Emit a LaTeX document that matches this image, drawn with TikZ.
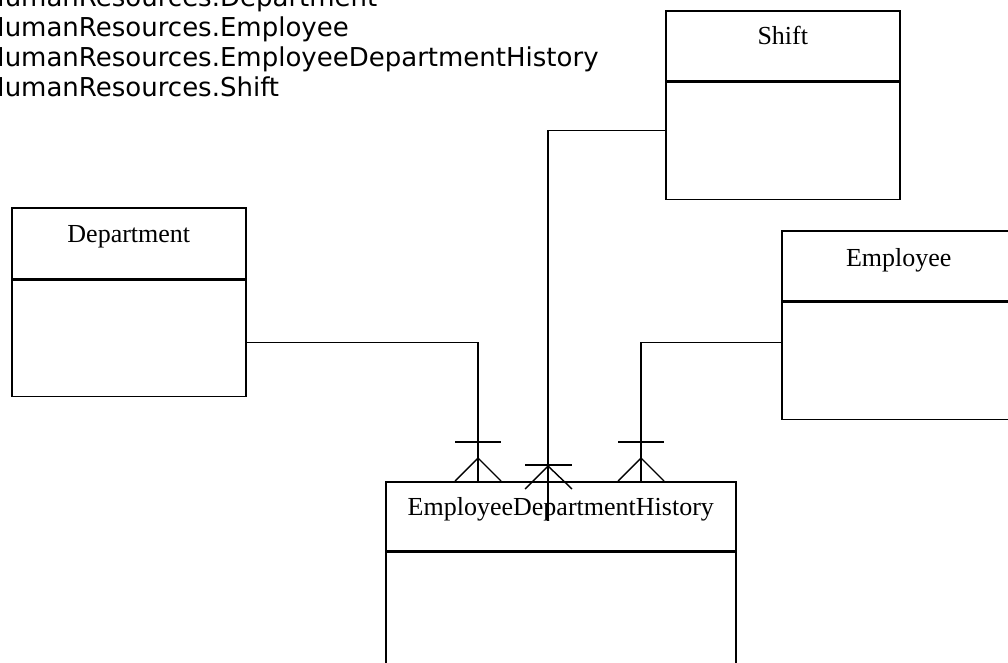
\documentclass[tikz,border=0pt]{standalone}
\usepackage{fontspec}
\setmainfont{Liberation Serif}
\newfontfamily\listfont{DejaVu Sans}
\usetikzlibrary{calc,positioning}
\begin{document}
\begin{tikzpicture}[x=1pt,y=-1pt,
  hdr/.style={draw, line width=1.6pt, minimum width=234pt, minimum height=70pt, inner sep=0pt, anchor=north west},
  bodybox/.style={draw, line width=1.4pt, minimum width=234pt, minimum height=117pt, inner sep=0pt, anchor=north west},
  ttl/.style={anchor=base, inner sep=0pt, font=\fontsize{26}{30}\selectfont},
  lst/.style={anchor=base west, inner sep=0pt, font=\listfont\fontsize{26}{30}\selectfont},
  conn/.style={line width=1.4pt},
  foot/.style={line width=1.4pt}
]
\useasboundingbox (0,0) rectangle (1008,663);
\clip (0,0) rectangle (1008,663);
\fill[white] (0,0) rectangle (1008,663);

% list of tables
\node[lst] (t1) at (-15,7)  {HumanResources.Department};
\node[lst] (t2) at (-15,37) {HumanResources.Employee};
\node[lst] (t3) at (-15,67) {HumanResources.EmployeeDepartmentHistory};
\node[lst] (t4) at (-15,97) {HumanResources.Shift};

% Shift
\node[hdr] (shiftH) at (665,10) {};
\node[bodybox, anchor=north] (shiftB) at (shiftH.south) {};
\node[ttl] (shiftT) at ($(shiftH.north)+(0,35)$) {Shift};

% Department
\node[hdr, minimum height=71pt] (deptH) at (11,207) {};
\node[bodybox, minimum height=116pt, anchor=north] (deptB) at (deptH.south) {};
\node[ttl] (deptT) at ($(deptH.north)+(0,35)$) {Department};

% Employee
\node[hdr] (empH) at (781,230) {};
\node[bodybox, anchor=north] (empB) at (empH.south) {};
\node[ttl] (empT) at ($(empH.north)+(0,36)$) {Employee};

% EmployeeDepartmentHistory
\node[hdr, minimum width=350pt, minimum height=69pt] (edhH) at (385,481) {};
\node[bodybox, minimum width=350pt, minimum height=140pt, anchor=north] (edhB) at (edhH.south) {};
\node[ttl] (edhT) at ($(edhH.north)+(0,34)$) {EmployeeDepartmentHistory};

% foot points
\coordinate (f1) at ($(edhH.north west)+(93,0)$);
\coordinate (f2) at ($(edhH.north west)+(163,8)$);
\coordinate (f3) at ($(edhH.north west)+(256,0)$);
\coordinate (d1) at ($(deptB.north east)+(0,63)$);
\coordinate (s1) at ($(shiftB.north west)+(0,49)$);
\coordinate (e1) at ($(empB.north west)+(0,41)$);
\coordinate (s2) at ($(f2)+(0,32)$);

% connectors
\draw[conn] (d1) -| (f1);
\draw[conn] (e1) -| (f3);
\draw[conn] (s1) -| (s2);

% crow's feet
\foreach \f in {f1,f3}{
  \draw[foot] ($(\f)+(-23,-39)$) -- ($(\f)+(23,-39)$);
  \draw[foot] ($(\f)+(-23,0)$) -- ($(\f)+(0,-23)$) -- ($(\f)+(23,0)$);
}
\draw[foot] ($(f2)+(-23,-24)$) -- ($(f2)+(24,-24)$);
\draw[foot] ($(f2)+(-23,0)$) -- ($(f2)+(0,-23)$) -- ($(f2)+(24,0)$);
\end{tikzpicture}
\end{document}
